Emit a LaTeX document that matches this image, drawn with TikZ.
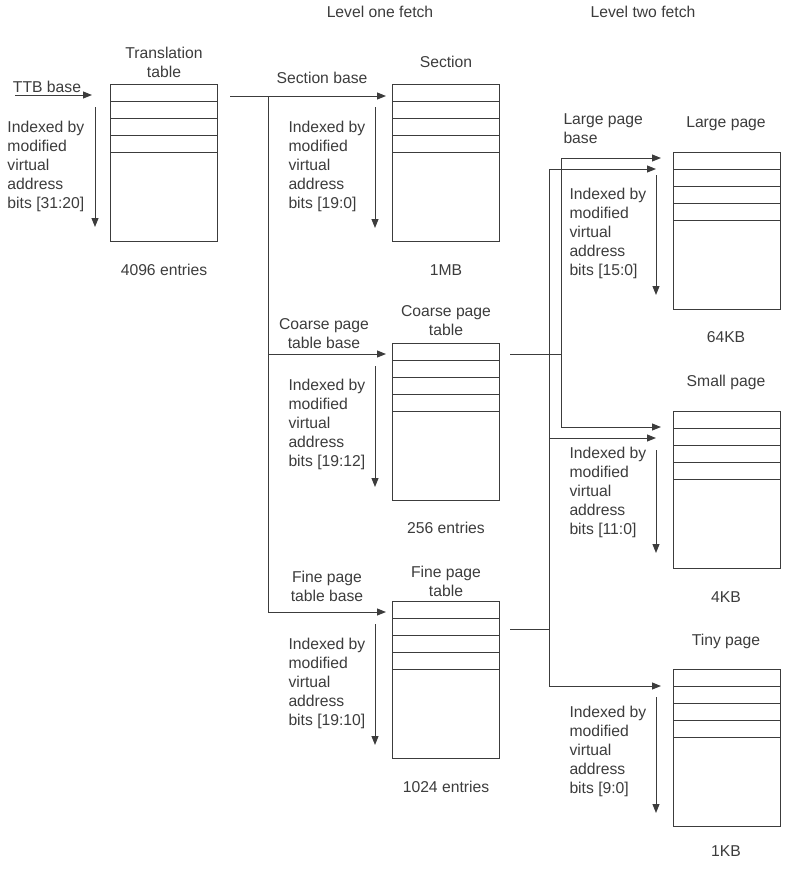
\documentclass[tikz,border=0pt]{standalone}
\usepackage{fontspec}
\setmainfont{Liberation Sans}
\usetikzlibrary{arrows.meta}

\definecolor{inkgray}{HTML}{3C3C3C}

\tikzset{
  tablebox/.style={draw, minimum width=107pt, minimum height=157pt,
    inner sep=0pt, outer sep=0pt, anchor=north west},
  lbl/.style={inner sep=0pt, align=center, font=\fontsize{15.7}{19}\selectfont},
  idx/.style={inner sep=0pt, align=left, anchor=west, font=\fontsize{15.7}{19}\selectfont},
  link/.style={-{Triangle[length=9pt,width=7pt]}},
}

% a table with four entry rows at the top
\newcommand{\memtable}[3]{%
  \node[tablebox] (#1) at (#2,#3) {};
  \foreach \r in {1,...,4}{
    \draw (#2,{#3+17*\r}) -- ++(107,0);
  }
}

\begin{document}
\begin{tikzpicture}[x=1pt,y=-1pt,line width=1pt,color=inkgray]
\useasboundingbox (0,0) rectangle (800,871);

% headings
\node[lbl] (lvlone) at (380,12) {Level one fetch};
\node[lbl] (lvltwo) at (643,12) {Level two fetch};

% tables
\memtable{tt}{110}{84}
\memtable{sect}{392}{84}
\memtable{coarse}{392}{343}
\memtable{fine}{392}{601}
\memtable{large}{673}{152}
\memtable{small}{673}{411}
\memtable{tiny}{673}{669}

% titles and sizes
\node[lbl] (tttitle) at (164,62) {Translation\\table};
\node[lbl] (ttsize) at (164,270) {4096 entries};
\node[lbl] (secttitle) at (446,62) {Section};
\node[lbl] (sectsize) at (446,270) {1MB};
\node[lbl] (coarsetitle) at (446,321) {Coarse page\\table};
\node[lbl] (coarsesize) at (446,528) {256 entries};
\node[lbl] (finetitle) at (446,581) {Fine page\\table};
\node[lbl] (finesize) at (446,787) {1024 entries};
\node[lbl] (largetitle) at (726,124) {Large page};
\node[lbl] (largesize) at (726,337) {64KB};
\node[lbl] (smalltitle) at (726,382) {Small page};
\node[lbl] (smallsize) at (726,597) {4KB};
\node[lbl] (tinytitle) at (726,641) {Tiny page};
\node[lbl] (tinysize) at (726,851) {1KB};

% base labels
\node[lbl] (ttbase) at (47,87) {TTB base};
\node[lbl] (sectbase) at (322,78) {Section base};
\node[lbl] (coarsebase) at (324,334) {Coarse page\\table base};
\node[lbl] (finebase) at (327,586) {Fine page\\table base};
\node[idx, align=left] (largebase) at (563,129) {Large page\\base};

% index texts
\node[idx] (ttidx) at (7,166) {Indexed by\\modified\\virtual\\address\\bits [31:20]};
\node[idx] (sectidx) at (288,166) {Indexed by\\modified\\virtual\\address\\bits [19:0]};
\node[idx] (coarseidx) at (288,424) {Indexed by\\modified\\virtual\\address\\bits [19:12]};
\node[idx] (fineidx) at (288,683) {Indexed by\\modified\\virtual\\address\\bits [19:10]};
\node[idx] (largeidx) at (569,233) {Indexed by\\modified\\virtual\\address\\bits [15:0]};
\node[idx] (smallidx) at (569,492) {Indexed by\\modified\\virtual\\address\\bits [11:0]};
\node[idx] (tinyidx) at (569,751) {Indexed by\\modified\\virtual\\address\\bits [9:0]};

% index arrows
\draw[link] (95,107) -- (95,227);
\draw[link] (375,107) -- (375,228);
\draw[link] (375,366) -- (375,487);
\draw[link] (375,624) -- (375,745);
\draw[link] (656,175) -- (656,295);
\draw[link] (656,450) -- (656,553);
\draw[link] (656,697) -- (656,813);

% junction points
\coordinate (ttbin) at (15,95);
\coordinate (ttout) at (230,96);
\coordinate (trunk) at (268,96);
\coordinate (coarseout) at (510,354);
\coordinate (cbus) at (561,354);
\coordinate (fineout) at (510,629);
\coordinate (fbus) at (549,629);

% level one fetch
\draw[link] (ttbin) -- ([xshift=-18pt]tt.west |- ttbin);
\draw[link] (ttout) -- ([xshift=-6pt]sect.west |- ttout);
\draw (trunk) -- (268,612);
\draw[link] (trunk |- coarseout) -- ([xshift=-6pt]coarse.west |- coarseout);
\draw[link] (268,612) -- ([xshift=-6pt]fine.west |- 0,612);

% level two fetch, coarse table
\draw (coarseout) -- (cbus);
\draw[link] (cbus) |- ([xshift=-12pt]large.north west |- 0,158);
\draw[link] (cbus) |- ([xshift=-12pt]small.north west |- 0,427);

% level two fetch, fine table
\draw (fineout) -- (fbus);
\draw[link] (fbus) |- ([xshift=-17pt]large.north west |- 0,169);
\draw[link] (fbus) |- ([xshift=-17pt]small.north west |- 0,438);
\draw[link] (fbus) |- ([xshift=-12pt]tiny.north west |- 0,686);
\end{tikzpicture}
\end{document}
